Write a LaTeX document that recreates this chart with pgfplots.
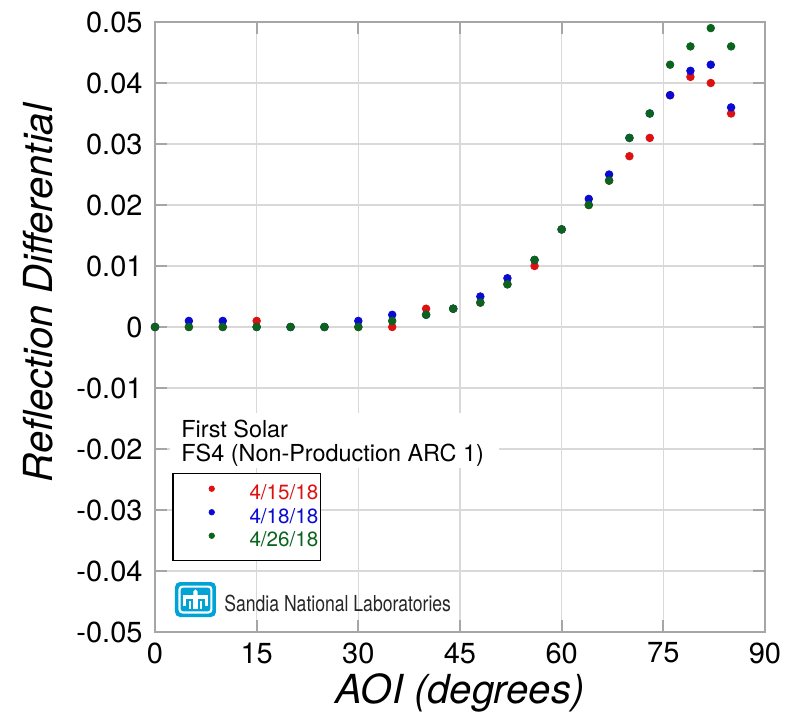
\documentclass[border=0pt]{standalone}
\usepackage{fontspec}
\setmainfont{TeX Gyre Heros}
\usepackage{graphicx}
\usepackage{pgfplots}
\pgfplotsset{compat=1.18}
\definecolor{sred}{RGB}{221,17,17}
\definecolor{sblue}{RGB}{10,10,210}
\definecolor{sgreen}{RGB}{10,100,30}
\definecolor{sandia}{RGB}{0,163,214}
\begin{document}
\begin{tikzpicture}
\useasboundingbox (-77.5pt,-43.5pt) rectangle (324.5pt,316pt);
\begin{axis}[
  name=ax, at={(0,0)}, anchor=south west,
  scale only axis, width=305pt, height=305pt,
  xmin=0, xmax=90, ymin=-0.05, ymax=0.05,
  xtick={0,15,30,45,60,75,90}, xticklabels={0,15,30,45,60,75,90},
  ytick={-0.05,-0.04,-0.03,-0.02,-0.01,0,0.01,0.02,0.03,0.04,0.05},
  yticklabels={-0.05,-0.04,-0.03,-0.02,-0.01,0,0.01,0.02,0.03,0.04,0.05},
  scaled y ticks=false,
  /pgf/number format/assume math mode=true,
  grid=major, major grid style={color=gray!30, line width=0.7pt},
  axis line style={color=gray!70, line width=0.9pt},
  tick style={color=gray!70, line width=0.9pt},
  tick align=inside, tick pos=both, major tick length=6pt,
  tick label style={font=\fontsize{14.5}{17}\selectfont, text=black},
  xticklabel style={yshift=-1.7pt}, yticklabel style={xshift=-2.7pt},
  xlabel={AOI (degrees)}, ylabel={Reflection Differential},
  xlabel style={font=\fontsize{20}{24}\selectfont\itshape, at={(rel axis cs:0.5,-0.1164)}, anchor=base},
  ylabel style={font=\fontsize{20}{24}\selectfont\itshape, at={(rel axis cs:-0.1918,0.5557)}, anchor=center},
  clip=false,
  legend image code/.code={\path[draw=none, fill=none] (-15.5pt,-1pt) rectangle (1.4pt,1pt);
    \draw[#1, mark size=1.4pt, line width=0.3pt] plot coordinates {(0pt,2.4pt)};},
  legend cell align=right,
  legend style={at={(axis cs:2.5,-0.0239)}, anchor=north west, draw=black, line width=0.8pt,
    fill=white, inner xsep=4pt, inner ysep=4.1pt, row sep=0pt, column sep=0pt,
    nodes={inner sep=1pt, text height=8pt, text depth=1.75pt, font=\fontsize{10.3}{12}\selectfont}},
]
\addplot[only marks, mark=*, mark size=1.9pt, color=sred] coordinates {
(0,0) (5,0) (10,0) (15,0.001) (20,0) (25,0) (30,0) (35,0) (40,0.003) (44,0.003)
(48,0.004) (52,0.007) (56,0.010) (60,0.016) (64,0.020) (67,0.024) (70,0.028)
(73,0.031) (76,0.038) (79,0.041) (82,0.040) (85,0.035)};
\addlegendentry{\hspace*{16.5pt}\textcolor{sred}{4/15/18}\hspace*{-3.8pt}}
\addplot[only marks, mark=*, mark size=1.9pt, color=sblue] coordinates {
(0,0) (5,0.001) (10,0.001) (15,0) (20,0) (25,0) (30,0.001) (35,0.002) (40,0.002) (44,0.003)
(48,0.005) (52,0.008) (56,0.011) (60,0.016) (64,0.021) (67,0.025) (70,0.031)
(73,0.035) (76,0.038) (79,0.042) (82,0.043) (85,0.036)};
\addlegendentry{\hspace*{16.5pt}\textcolor{sblue}{4/18/18}\hspace*{-3.8pt}}
\addplot[only marks, mark=*, mark size=1.9pt, color=sgreen] coordinates {
(0,0) (5,0) (10,0) (15,0) (20,0) (25,0) (30,0) (35,0.001) (40,0.002) (44,0.003)
(48,0.004) (52,0.007) (56,0.011) (60,0.016) (64,0.020) (67,0.024) (70,0.031)
(73,0.035) (76,0.043) (79,0.046) (82,0.049) (85,0.046)};
\addlegendentry{\hspace*{16.5pt}\textcolor{sgreen}{4/26/18}\hspace*{-3.8pt}}
\end{axis}
% annotation block (origin = lower-left corner of the axis box)
\fill[white] (7.5pt,82pt) rectangle (172pt,109.5pt);
\node[anchor=base west, inner sep=0pt, font=\fontsize{11.7}{14}\selectfont] at (13pt,97.5pt) {First Solar};
\node[anchor=base west, inner sep=0pt, font=\fontsize{11.7}{14}\selectfont] at (13pt,85.25pt) {FS4 (Non-Production ARC 1)};
% Sandia logo
\begin{scope}[shift={(10pt,7.5pt)}, x=1pt, y=1pt]
  \fill[sandia, rounded corners=2.5pt] (0,0) rectangle (20.5,17.5);
  \draw[white, line width=1.1pt, rounded corners=1.5pt] (2.3,2.3) rectangle (18.2,15.2);
  \fill[white] (9.2,10.5) -- (9.2,12.8) -- (10.25,13.8) -- (11.3,12.8) -- (11.3,10.5) -- cycle;
  \fill[white] (4.2,9.2) rectangle (16.3,10.8);
  \fill[white] (4.2,5.5) rectangle (5.6,10.8);
  \fill[white] (14.9,5.5) rectangle (16.3,10.8);
  \fill[white] (9.2,4) rectangle (11.3,10.5);
  \fill[white] (6.9,4) rectangle (8.2,8.2);
  \fill[white] (12.3,4) rectangle (13.6,8.2);
\end{scope}
\node[anchor=base west, inner sep=0pt, font=\fontsize{11}{13}\selectfont, text=black!85] at (34.5pt,10.5pt) {\scalebox{0.8}[1]{Sandia National Laboratories}};
\end{tikzpicture}
\end{document}
